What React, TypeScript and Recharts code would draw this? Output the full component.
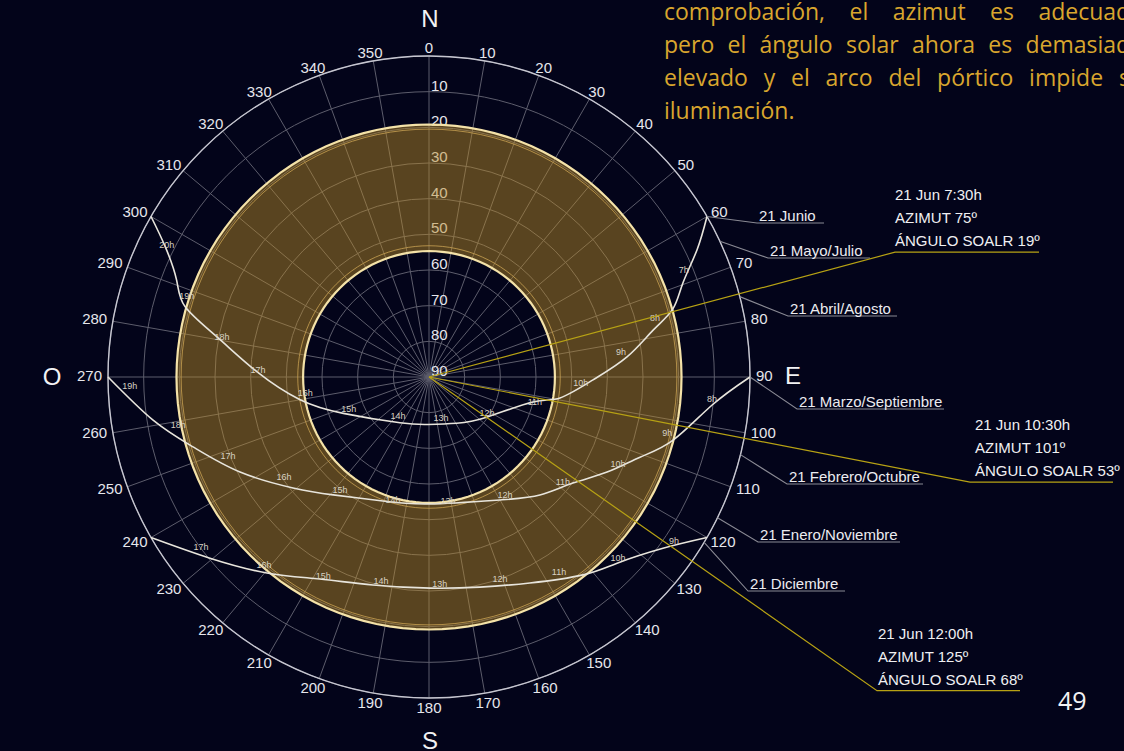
import React from 'react';
import {
  RadarChart,
  Radar,
  PolarGrid,
  PolarAngleAxis,
  PolarRadiusAxis,
  ScatterChart,
  Scatter,
  XAxis,
  YAxis,
} from 'recharts';

// ---------- data ----------
const AZIMUTH_TICKS = [
  0, 10, 20, 30, 40, 50, 60, 70, 80, 90, 100, 110, 120, 130, 140, 150, 160, 170,
  180, 190, 200, 210, 220, 230, 240, 250, 260, 270, 280, 290, 300, 310, 320, 330, 340, 350,
];

// shaded band between two solar altitudes
const BAND_ALT_LOW = 19.2;
const BAND_ALT_HIGH = 54.7;

// sun paths as [azimuth, altitude]
const JUNE_PATH: [number, number][] = [
  [60, 0], [64.6, 6.8], [69.7, 14.1], [74.4, 19.0], [78.2, 25.8], [84.2, 34.2],
  [91.0, 44.0], [99.1, 52.8], [103.5, 60.0], [124.9, 70.3], [149.1, 74.9],
  [181, 76.7], [212.4, 74.8], [247, 63.9], [260, 53.3], [271.7, 41.8],
  [280.7, 29.5], [286.1, 18.8], [291, 14.2], [296.3, 7.5], [300, 0],
];
const EQUINOX_PATH: [number, number][] = [
  [90, 0], [95.7, 10.3], [104.5, 19.3], [110.8, 26.7], [118.1, 33.4], [126.4, 39.9],
  [136.8, 44.6], [150, 50.2], [180, 54.4], [200.4, 52.9], [219.1, 47.4],
  [230.8, 40.8], [243.3, 30.7], [253.5, 21.0], [261.1, 11.7], [270, 0],
];
const DECEMBER_PATH: [number, number][] = [
  [120, 0], [126.2, 8.7], [134.7, 15.8], [142.1, 19.7], [153.9, 25.7], [166.4, 29.4],
  [179.7, 30.8], [195.1, 29.6], [208.4, 25.6], [219.6, 18.7], [230.4, 10.3], [240, 0],
];

// hour marks along each path
const JUNE_HOURS = ['7h', '8h', '9h', '10h', '11h', '12h', '13h', '14h', '15h', '16h', '17h', '18h', '19h', '20h'];
const JUNE_HOUR_POS: [number, number][] = [
  [67.2, 12.5], [75.4, 24.5], [82.6, 35.7], [92.3, 47.4], [103.3, 59.5], [121.8, 70.9],
  [163.7, 78.0], [218.5, 76.0], [248.2, 65.8], [262.6, 55.0], [272.3, 42.0],
  [280.9, 30.9], [288.5, 18.4], [296.7, 7.7],
];
const EQUINOX_HOURS = ['8h', '9h', '10h', '11h', '12h', '13h', '14h', '15h', '16h', '17h', '18h', '19h'];
const EQUINOX_HOUR_POS: [number, number][] = [
  [94.4, 10.4], [103.2, 21.4], [114.7, 31.7], [128.1, 42.3], [147.2, 50.6], [171.3, 54.8],
  [196.3, 54.1], [218.2, 49.7], [235.4, 40.6], [248.5, 29.4], [259.2, 18.4], [268.3, 6.1],
];
const DECEMBER_HOURS = ['9h', '10h', '11h', '12h', '13h', '14h', '15h', '16h', '17h'];
const DECEMBER_HOUR_POS: [number, number][] = [
  [123.8, 7.3], [133.8, 16.6], [146.3, 24.3], [160.6, 30.0], [177.0, 31.9],
  [193.2, 31.2], [208.0, 26.8], [221.3, 19.9], [233.3, 10.3],
];

// sunrise azimuth for each 21st of the month
const MONTH_LABELS = [
  '21 Junio', '21 Mayo/Julio', '21 Abril/Agosto', '21 Marzo/Septiembre',
  '21 Febrero/Octubre', '21 Enero/Noviembre', '21 Diciembre',
];
const MONTH_SUNRISE_AZ = [60, 65, 75.5, 90, 104, 116, 121];

// highlighted sun positions
const NOTE_TITLES = ['21 Jun 7:30h', '21 Jun 10:30h', '21 Jun 12:00h'];
const NOTE_AZIMUTH = [75, 101, 125];
const NOTE_ALTITUDE = [19, 53, 68];

const PARAGRAPH_LINES = [
  'comprobación, el azimut es adecuado',
  'pero el ángulo solar ahora es demasiado',
  'elevado y el arco del pórtico impide su',
  'iluminación.',
];

// ---------- layout ----------
const W = 1124;
const H = 751;
const CX = 429;
const CY = 377;
const R = 321;
const PX_PER_DEG = R / 90;
const X_DOMAIN: [number, number] = [-CX / PX_PER_DEG, (W - CX) / PX_PER_DEG];
const Y_DOMAIN: [number, number] = [-(H - CY) / PX_PER_DEG, CY / PX_PER_DEG];

// month label underline: start x, y, end x
const MONTH_LABEL_POS: [number, number, number][] = [
  [757, 223, 824], [768, 258, 870], [788, 316, 897], [797, 409, 944],
  [787, 484, 923], [758, 542, 900], [748, 591, 845],
];
const NOTE_LABEL_X = [895, 970, 877];
const NOTE_TEXT_DX = [0, 5, 1];
const NOTE_UNDERLINE = [144, 143, 143];

const BG = '#03041a';
const SANS = "'Liberation Sans', Arial, sans-serif";
const GOLD_TEXT = '#d9a62e';

const RAD = Math.PI / 180;
// azimuth (clockwise from north) and altitude -> plane coordinates in degrees of zenith distance
function toXY(az: number, alt: number) {
  const zd = 90 - alt;
  return { x: zd * Math.sin(az * RAD), y: zd * Math.cos(az * RAD) };
}

const RING_AZIMUTHS = Array.from({ length: 121 }, (_, i) => i * 3);
const ring = (alt: number) => RING_AZIMUTHS.map((az) => toXY(az, alt));

const bandData = [...ring(BAND_ALT_LOW), ...ring(BAND_ALT_HIGH)];
const RING_N = RING_AZIMUTHS.length;

const Blank = () => <g />;

function BandFill(props: any) {
  const pts: { x: number; y: number }[] = props.points || [];
  const seg = (arr: { x: number; y: number }[]) =>
    arr.map((p, i) => `${i ? 'L' : 'M'}${p.x},${p.y}`).join('') + 'Z';
  return (
    <path
      d={seg(pts.slice(0, RING_N)) + seg(pts.slice(RING_N))}
      fill="#bb8d28"
      fillOpacity={0.47}
      fillRule="evenodd"
      stroke="none"
    />
  );
}

function HourLabel(props: any) {
  const { cx, cy, payload } = props;
  return (
    <text
      x={cx}
      y={cy}
      textAnchor="middle"
      dominantBaseline="central"
      fontSize={9}
      fontFamily={SANS}
      fill="#d8d2c2"
    >
      {payload.label}
    </text>
  );
}

function MonthCallout(props: any) {
  const { cx, cy, payload } = props;
  const [lx, ly, lx2] = MONTH_LABEL_POS[payload.i];
  return (
    <g>
      <polyline
        points={`${cx},${cy} ${lx},${ly} ${lx2},${ly}`}
        fill="none"
        stroke="#8a8a94"
        strokeWidth={1.1}
      />
      <text x={lx + 2} y={ly - 2.5} fontSize={15} fontFamily={SANS} fill="#ececf0">
        {payload.label}
      </text>
    </g>
  );
}

function NoteCallout(props: any) {
  const { cx, cy, payload } = props;
  const i = payload.i;
  const dx = cx - CX;
  const dy = cy - CY;
  const len = Math.hypot(dx, dy) || 1;
  const ux = dx / len;
  const uy = dy / len;
  const lx = NOTE_LABEL_X[i];
  const t = (lx - CX) / ux;
  const ly = CY + uy * t;
  const tx = lx + NOTE_TEXT_DX[i];
  const lines = [
    NOTE_TITLES[i],
    `AZIMUT ${NOTE_AZIMUTH[i]}º`,
    `ÁNGULO SOALR ${NOTE_ALTITUDE[i]}º`,
  ];
  return (
    <g>
      <polyline
        points={`${CX},${CY} ${lx},${ly} ${lx + NOTE_UNDERLINE[i]},${ly}`}
        fill="none"
        stroke="#b7a214"
        strokeWidth={1.2}
      />
      {lines.map((s, k) => (
        <text key={k} x={tx} y={ly - 52 + k * 23} fontSize={15} fontFamily={SANS} fill="#f0f0f2">
          {s}
        </text>
      ))}
    </g>
  );
}

function AzimuthTick(props: any) {
  const { x, y, payload } = props;
  const dx = x - CX;
  const dy = y - CY;
  const len = Math.hypot(dx, dy) || 1;
  const ux = dx / len;
  const uy = dy / len;
  const label = String(payload.value);
  const w = label.length * 8.3;
  const px = CX + ux * R + ux * (6 + w / 2);
  const py = CY + uy * R + uy * 9 - 1.5 + 2 * uy * uy;
  return (
    <text
      x={px}
      y={py}
      textAnchor="middle"
      dominantBaseline="central"
      fontSize={15}
      fontFamily={SANS}
      fill="#e6e6ec"
    >
      {label}
    </text>
  );
}

function AltitudeTick(props: any) {
  const { x, y, payload } = props;
  if (payload.value >= 90) return <g />;
  return (
    <text x={x + 2} y={y - 1} fontSize={15} fontFamily={SANS} fill="#e6e6ec">
      {90 - payload.value}
    </text>
  );
}

const pathData = (path: [number, number][]) => path.map(([az, alt]) => toXY(az, alt));
const hourData = (pos: [number, number][], labels: string[]) =>
  pos.map(([az, alt], i) => ({ ...toXY(az, alt), label: labels[i] }));

const radarData = AZIMUTH_TICKS.map((az) => ({ az, zero: 0 }));
const monthData = MONTH_SUNRISE_AZ.map((az, i) => ({ ...toXY(az, 0), label: MONTH_LABELS[i], i }));
const noteData = NOTE_AZIMUTH.map((az, i) => ({ ...toXY(az, NOTE_ALTITUDE[i]), i }));

const curveLine = { stroke: '#e8e5dc', strokeWidth: 1.6 };

export default function App() {
  return (
    <div
      style={{
        position: 'fixed',
        left: 0,
        top: 0,
        width: W,
        height: H,
        overflow: 'hidden',
        background: BG,
      }}
    >
      {/* polar grid, azimuth and altitude scales */}
      <div style={{ position: 'absolute', left: 0, top: 0 }}>
        <RadarChart
          width={W}
          height={H}
          cx={CX}
          cy={CY}
          innerRadius={0}
          outerRadius={R}
          data={radarData}
          margin={{ top: 0, right: 0, bottom: 0, left: 0 }}
        >
          <PolarGrid gridType="circle" stroke="#5d5d6c" strokeWidth={1} />
          <PolarAngleAxis
            dataKey="az"
            tick={AzimuthTick}
            tickLine={false}
            axisLine={{ stroke: '#c6c6d0', strokeWidth: 1.4 }}
            axisLineType="circle"
          />
          <PolarRadiusAxis
            angle={90}
            type="number"
            domain={[0, 90]}
            tickCount={10}
            tick={AltitudeTick}
            axisLine={false}
            tickLine={false}
          />
          <Radar dataKey="zero" stroke="none" fill="none" dot={false} isAnimationActive={false} />
        </RadarChart>
      </div>

      {/* band, sun paths and callouts */}
      <div style={{ position: 'absolute', left: 0, top: 0 }}>
        <ScatterChart width={W} height={H} margin={{ top: 0, right: 0, bottom: 0, left: 0 }}>
          <XAxis type="number" dataKey="x" domain={X_DOMAIN} allowDataOverflow hide />
          <YAxis type="number" dataKey="y" domain={Y_DOMAIN} allowDataOverflow hide />

          <Scatter data={bandData} line={BandFill} shape={Blank} isAnimationActive={false} />
          <Scatter data={ring(BAND_ALT_LOW + 1.3)} line={{ stroke: '#c9a253', strokeWidth: 0.8 }} shape={Blank} isAnimationActive={false} />
          <Scatter data={ring(BAND_ALT_HIGH - 1.5)} line={{ stroke: '#c9a253', strokeWidth: 0.8 }} shape={Blank} isAnimationActive={false} />
          <Scatter data={ring(BAND_ALT_LOW)} line={{ stroke: '#f4e2a8', strokeWidth: 2.2 }} shape={Blank} isAnimationActive={false} />
          <Scatter data={ring(BAND_ALT_HIGH)} line={{ stroke: '#f4e2a8', strokeWidth: 2.2 }} shape={Blank} isAnimationActive={false} />

          <Scatter data={pathData(JUNE_PATH)} line={curveLine} lineJointType="natural" shape={Blank} isAnimationActive={false} />
          <Scatter data={pathData(EQUINOX_PATH)} line={curveLine} lineJointType="natural" shape={Blank} isAnimationActive={false} />
          <Scatter data={pathData(DECEMBER_PATH)} line={curveLine} lineJointType="natural" shape={Blank} isAnimationActive={false} />

          <Scatter data={hourData(JUNE_HOUR_POS, JUNE_HOURS)} shape={HourLabel} isAnimationActive={false} />
          <Scatter data={hourData(EQUINOX_HOUR_POS, EQUINOX_HOURS)} shape={HourLabel} isAnimationActive={false} />
          <Scatter data={hourData(DECEMBER_HOUR_POS, DECEMBER_HOURS)} shape={HourLabel} isAnimationActive={false} />

          <Scatter data={monthData} shape={MonthCallout} isAnimationActive={false} />
          <Scatter data={noteData} shape={NoteCallout} isAnimationActive={false} />
        </ScatterChart>
      </div>

      {/* compass letters and page number */}
      <svg
        width={W}
        height={H}
        style={{ position: 'absolute', left: 0, top: 0, pointerEvents: 'none' }}
      >
        <g fontFamily={SANS} fontSize={24} fill="#f2f2f4">
          <text x={430} y={26.5} textAnchor="middle">N</text>
          <text x={785} y={383.5}>E</text>
          <text x={430} y={749} textAnchor="middle">S</text>
          <text x={52} y={384.5} textAnchor="middle">O</text>
        </g>
        <text x={1058} y={710} fontFamily="'Open Sans', sans-serif" fontSize={25} fill="#f2f2f4">
          49
        </text>
      </svg>

      {/* body text */}
      <div
        style={{
          position: 'absolute',
          left: 664,
          top: -4.6,
          width: 480,
          fontFamily: "'Open Sans', sans-serif",
          fontSize: 23,
          lineHeight: '32.7px',
          color: GOLD_TEXT,
        }}
      >
        {PARAGRAPH_LINES.map((line, i) => (
          <div
            key={i}
            style={{
              textAlign: 'justify',
              textAlignLast: i < PARAGRAPH_LINES.length - 1 ? 'justify' : 'left',
              whiteSpace: 'normal',
            }}
          >
            {line}
          </div>
        ))}
      </div>
    </div>
  );
}
